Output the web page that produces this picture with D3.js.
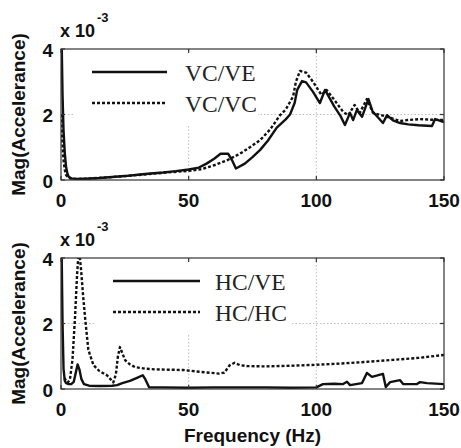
<!DOCTYPE html>
<html><head><meta charset="utf-8">
<script src="https://cdn.jsdelivr.net/npm/d3@7"></script>
<style>body{margin:0;background:#fff}</style>
</head><body>
<script>
// ---- data (values in units of 1e-3) ----
const xTicks = [0, 50, 100, 150];
const yTicks = [0, 2, 4];
const yExponentLabel = "x 10";
const yExponentSup = "-3";
const yLabel = "Mag(Accelerance)";
const xLabel = "Frequency (Hz)";

const vcveF = [0.2,0.6,1,1.5,2,2.5,3,4,6,10,15,20,25,30,35,40,45,50,54,57,60,62.5,65.5,67,68.5,72,75,78,81,84.5,88,89.7,91.5,92.5,94.4,96,98.7,101.4,103.4,107,109.5,111.2,113.2,114.4,115.9,117.9,120.4,122,126.1,127.7,130,132.8,136,140,145.3,146.5,150];
const vcveV = [4.5,2.6,1.5,0.8,0.4,0.2,0.1,0.05,0.03,0.04,0.06,0.09,0.12,0.16,0.2,0.23,0.27,0.32,0.38,0.5,0.65,0.8,0.8,0.6,0.35,0.5,0.7,0.92,1.2,1.6,1.85,2.0,2.35,2.75,3.02,2.98,2.69,2.35,2.75,2.25,1.95,1.68,2.05,1.83,2.14,1.93,2.47,2.1,1.74,1.98,1.82,1.74,1.7,1.67,1.65,1.86,1.77];

const vcvcF = [0,0.5,1,1.5,2,3,5,10,20,30,40,50,55,60,65,70,74,78,82,85.8,88,90.9,92,93.6,96,98.7,102,104,107,110.5,112.5,115,117,119.8,122.2,127.7,132.8,135.5,140.6,145,150];
const vcvcV = [2.0,1.2,0.6,0.3,0.15,0.06,0.03,0.04,0.09,0.15,0.22,0.28,0.33,0.45,0.6,0.8,1.0,1.22,1.55,1.98,2.15,2.55,3.0,3.33,3.28,3.0,2.6,2.75,2.45,2.08,1.98,2.29,2.05,2.47,2.05,1.93,1.8,1.83,1.86,1.84,1.83];

const hcveF = [0.2,0.6,1,1.5,2,3,4,5,5.8,6.5,7.2,8,9,11,15,20,22,24,27,30,32,33,34.5,40,50,60,70,80,90,100,102.6,107,110.5,112,113.2,117.9,119.8,121.8,126.1,127.2,128.9,132.8,134,139.4,140.6,143.3,150];
const hcveV = [4.5,2.0,0.6,0.25,0.18,0.15,0.15,0.22,0.5,0.75,0.6,0.3,0.15,0.1,0.09,0.1,0.12,0.18,0.25,0.35,0.42,0.3,0.05,0.05,0.04,0.05,0.05,0.05,0.04,0.05,0.15,0.16,0.15,0.22,0.12,0.18,0.49,0.37,0.46,0.06,0.21,0.27,0.15,0.15,0.21,0.18,0.15];

const hchcF = [1.2,2.7,3.5,4.5,5.5,6.3,7,7.8,8.6,9.4,10.7,12.7,15,18,20.5,21.5,22.3,23.1,24,25.1,27,29,33,36.8,42,47.8,55,62,64,66,68,70,73,80,90,100,110,120,130,140,150];
const hchcV = [0.33,0.2,0.3,0.9,2.2,3.5,4.3,3.7,2.9,2.2,1.2,0.73,0.55,0.42,0.2,0.45,1.0,1.28,1.1,0.88,0.75,0.67,0.62,0.6,0.59,0.58,0.52,0.47,0.5,0.72,0.8,0.73,0.7,0.69,0.71,0.74,0.78,0.83,0.89,0.95,1.04];

const panels = [
  {top: 49, bottom: 180, series: [
    {name: "VC/VE", f: vcveF, v: vcveV, dash: null},
    {name: "VC/VC", f: vcvcF, v: vcvcV, dash: "3,2"}],
   legend: {x0: 75, x1: 258, y1: 125, lx0: 92, lx1: 167, tx: 185, ly: [72, 103]}},
  {top: 258, bottom: 389, series: [
    {name: "HC/VE", f: hcveF, v: hcveV, dash: null},
    {name: "HC/HC", f: hchcF, v: hchcV, dash: "3,2"}],
   legend: {x0: 96, x1: 291, y1: 333, lx0: 113, lx1: 200, tx: 215, ly: [281, 312]}}
];

const W = 461, H = 448;
const left = 61, right = 444;
const svg = d3.select("body").append("svg").attr("width", W).attr("height", H);
const sans = "'Liberation Sans', Arial, sans-serif";
const serif = "'Liberation Serif', 'Times New Roman', serif";

const x = d3.scaleLinear().domain([0, 150]).range([left, right]);

panels.forEach((p, i) => {
  const y = d3.scaleLinear().domain([0, 4]).range([p.bottom, p.top]);
  const g = svg.append("g");
  const clipId = "clip" + i;
  svg.append("defs").append("clipPath").attr("id", clipId)
    .append("rect").attr("x", left).attr("y", p.top).attr("width", right - left).attr("height", p.bottom - p.top);

  // grid
  const grid = g.append("g").attr("stroke", "#bdbdbd").attr("stroke-width", 1).attr("stroke-dasharray", "1.5,2");
  xTicks.slice(1, -1).forEach(t => grid.append("line").attr("x1", x(t)).attr("x2", x(t)).attr("y1", p.top).attr("y2", p.bottom));
  yTicks.slice(1, -1).forEach(t => grid.append("line").attr("x1", left).attr("x2", right).attr("y1", y(t)).attr("y2", y(t)));

  // legend box (white, hides grid)
  const L = p.legend;
  g.append("rect").attr("x", L.x0).attr("y", p.top + 1).attr("width", L.x1 - L.x0).attr("height", L.y1 - p.top - 1).attr("fill", "#fff");

  // data lines
  const line = d3.line().x(d => x(d[0])).y(d => y(d[1]));
  const dg = g.append("g").attr("clip-path", `url(#${clipId})`);
  p.series.forEach(s => {
    const pts = s.f.map((f, k) => [f, s.v[k]]);
    dg.append("path").attr("d", line(pts)).attr("fill", "none").attr("stroke", "#111")
      .attr("stroke-width", 2.4).attr("stroke-linejoin", "round")
      .attr("stroke-dasharray", s.dash);
  });

  // legend entries
  p.series.forEach((s, k) => {
    g.append("line").attr("x1", L.lx0).attr("x2", L.lx1).attr("y1", L.ly[k]).attr("y2", L.ly[k])
      .attr("stroke", "#111").attr("stroke-width", 2.4).attr("stroke-dasharray", s.dash);
    g.append("text").attr("x", L.tx).attr("y", L.ly[k] + 9).attr("font-family", serif)
      .attr("font-size", 23.5).attr("fill", "#222").text(s.name);
  });

  // axes box
  g.append("rect").attr("x", left).attr("y", p.top).attr("width", right - left).attr("height", p.bottom - p.top)
    .attr("fill", "none").attr("stroke", "#333").attr("stroke-width", 1.2);
  const tk = g.append("g").attr("stroke", "#333").attr("stroke-width", 1.2);
  xTicks.forEach(t => {
    tk.append("line").attr("x1", x(t)).attr("x2", x(t)).attr("y1", p.bottom).attr("y2", p.bottom - 4);
    tk.append("line").attr("x1", x(t)).attr("x2", x(t)).attr("y1", p.top).attr("y2", p.top + 4);
  });
  yTicks.forEach(t => {
    tk.append("line").attr("x1", left).attr("x2", left + 4).attr("y1", y(t)).attr("y2", y(t));
    tk.append("line").attr("x1", right).attr("x2", right - 4).attr("y1", y(t)).attr("y2", y(t));
  });

  // tick labels
  xTicks.forEach(t => g.append("text").attr("x", x(t)).attr("y", p.bottom + 27).attr("text-anchor", "middle")
    .attr("font-family", sans).attr("font-weight", "bold").attr("font-size", 19).attr("fill", "#111").text(t));
  yTicks.forEach(t => g.append("text").attr("x", left - 8).attr("y", y(t)).attr("dy", "0.42em").attr("text-anchor", "end")
    .attr("font-family", sans).attr("font-weight", "bold").attr("font-size", 19).attr("fill", "#111").text(t));

  // exponent
  g.append("text").attr("x", 60).attr("y", p.top - 12).attr("font-family", sans).attr("font-weight", "bold")
    .attr("font-size", 18).attr("fill", "#111").text(yExponentLabel);
  g.append("text").attr("x", 97).attr("y", p.top - 27).attr("font-family", sans).attr("font-weight", "bold")
    .attr("font-size", 13).attr("fill", "#111").text(yExponentSup);

  // y label
  g.append("text").attr("transform", `translate(25,${(p.top + p.bottom) / 2}) rotate(-90)`).attr("text-anchor", "middle")
    .attr("font-family", sans).attr("font-weight", "bold").attr("font-size", 19).attr("fill", "#111").text(yLabel);
});

svg.append("text").attr("x", (left + right) / 2).attr("y", 442).attr("text-anchor", "middle")
  .attr("font-family", sans).attr("font-weight", "bold").attr("font-size", 19).attr("fill", "#111").text(xLabel);
</script>
</body></html>
